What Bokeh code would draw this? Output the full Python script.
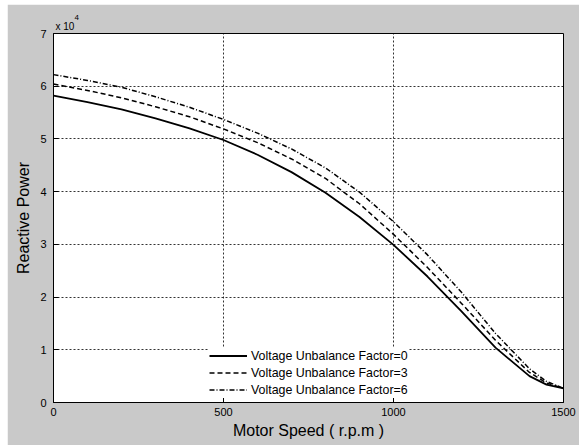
from bokeh.plotting import figure
from bokeh.models import Range1d, FixedTicker, Title, Legend, LegendItem
from bokeh.embed import file_html
from bokeh.resources import INLINE

# Motor speed (r.p.m)
speed = [0, 100, 200, 300, 400, 500, 600, 700, 800, 900, 1000, 1100, 1200, 1300, 1400, 1450, 1500]
# Reactive power in units of 1e4 for each voltage unbalance factor
q_uf0 = [5.82, 5.70, 5.56, 5.39, 5.20, 4.98, 4.70, 4.37, 3.98, 3.52, 2.99, 2.39, 1.73, 1.04, 0.50, 0.34, 0.27]
q_uf3 = [6.04, 5.92, 5.78, 5.61, 5.42, 5.19, 4.93, 4.62, 4.25, 3.77, 3.19, 2.56, 1.88, 1.18, 0.57, 0.37, 0.27]
q_uf6 = [6.22, 6.11, 5.98, 5.80, 5.60, 5.37, 5.11, 4.81, 4.45, 3.99, 3.43, 2.80, 2.09, 1.31, 0.64, 0.40, 0.27]
series_labels = ["Voltage Unbalance Factor=0", "Voltage Unbalance Factor=3", "Voltage Unbalance Factor=6"]
x_ticks = [0, 500, 1000, 1500]
y_ticks = [0, 1, 2, 3, 4, 5, 6, 7]

FONT = "Liberation Sans"

p = figure(width=572, height=441, output_backend="svg", toolbar_location=None,
           x_range=Range1d(0, 1500), y_range=Range1d(0, 7),
           min_border_left=46, min_border_right=16, min_border_top=29, min_border_bottom=43,
           border_fill_color="#c9c9c9", background_fill_color="white",
           outline_line_color="black", outline_line_width=1)
p.margin = (4, 0, 0, 7)

for ax in (p.xaxis[0], p.yaxis[0]):
    ax.major_label_text_font = FONT
    ax.major_label_text_font_size = "11px"
    ax.major_label_text_color = "black"
    ax.axis_label_text_font = FONT
    ax.axis_label_text_font_size = "16px"
    ax.axis_label_text_font_style = "normal"
    ax.axis_label_text_color = "black"
    ax.major_tick_in = 5
    ax.major_tick_out = 0
    ax.minor_tick_in = 0
    ax.minor_tick_out = 0
    ax.axis_line_color = "black"
    ax.major_tick_line_color = "black"

p.xaxis[0].ticker = FixedTicker(ticks=x_ticks)
p.yaxis[0].ticker = FixedTicker(ticks=y_ticks)
p.xaxis[0].axis_label = "Motor Speed ( r.p.m )"
p.yaxis[0].axis_label = "Reactive Power"
p.xaxis[0].major_label_standoff = 5
p.yaxis[0].major_label_standoff = 7
p.xaxis[0].axis_label_standoff = 3
p.yaxis[0].axis_label_standoff = 5

p.xgrid.ticker = FixedTicker(ticks=x_ticks)
p.ygrid.ticker = FixedTicker(ticks=y_ticks)
for g in (p.xgrid[0], p.ygrid[0]):
    g.grid_line_color = "black"
    g.grid_line_alpha = 0.8
    g.grid_line_dash = "2 2"
    g.grid_line_width = 1

r0 = p.line(speed, q_uf0, line_color="black", line_width=1.8)
r3 = p.line(speed, q_uf3, line_color="black", line_width=1.5, line_dash="5 3")
r6 = p.line(speed, q_uf6, line_color="black", line_width=1.5, line_dash="5 2 1 2")

legend = Legend(items=[LegendItem(label=series_labels[0], renderers=[r0]),
                       LegendItem(label=series_labels[1], renderers=[r3]),
                       LegendItem(label=series_labels[2], renderers=[r6])],
                location=(156, 4), padding=4, spacing=0, margin=0,
                label_height=17, glyph_height=17, glyph_width=38, label_standoff=4,
                label_text_font=FONT, label_text_font_size="12.4px", label_text_color="black",
                border_line_color=None, background_fill_color="white", background_fill_alpha=1)
p.add_layout(legend, "center")

# axis multiplier "x 10^4" above the top-left corner
p.add_layout(Title(text="x 10", align="left", offset=2, standoff=3, text_font=FONT,
                   text_font_size="10px", text_font_style="normal", text_color="black"), "above")
p.add_layout(Title(text="4", align="left", offset=21, standoff=-4, text_font=FONT,
                   text_font_size="8px", text_font_style="normal", text_color="black"), "above")

open("out.html", "w").write(file_html(p, INLINE))
